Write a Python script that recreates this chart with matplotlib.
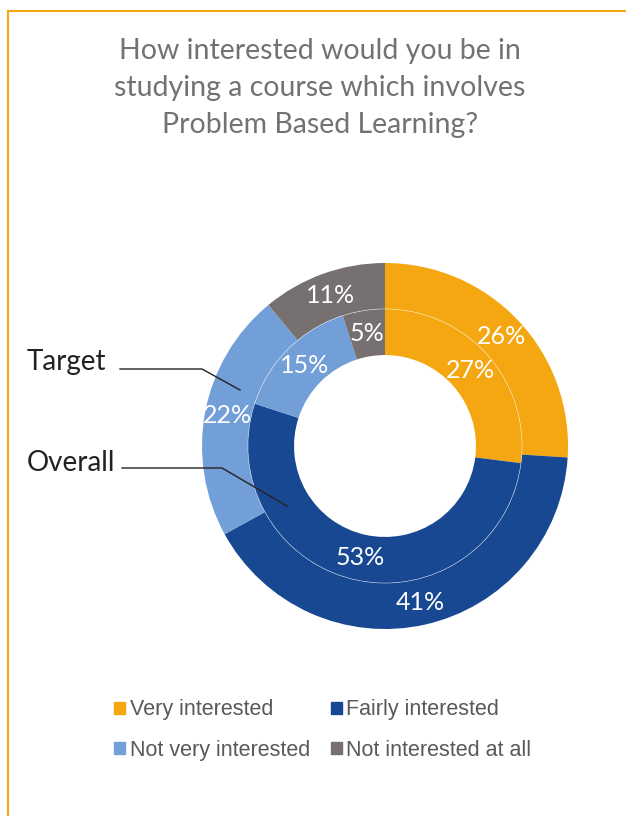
import matplotlib.pyplot as plt
from matplotlib.patches import Patch

# Survey answers, percentages
categories = ['Very interested', 'Fairly interested', 'Not very interested', 'Not interested at all']
target = [26, 41, 22, 11]
overall = [27, 53, 15, 5]
colors = ['#F5A712', '#194893', '#739FD9', '#767170']

W, H = 626, 816
fig = plt.figure(figsize=(W / 100, H / 100), dpi=100)

# orange frame on top and left
fig.add_artist(plt.Line2D([8 / W, 1], [1 - 11 / H, 1 - 11 / H], color='#F5A712', lw=1.5))
fig.add_artist(plt.Line2D([8 / W, 8 / W], [0, 1 - 11 / H], color='#F5A712', lw=1.5))

fig.text(320 / W, 1 - 88 / H,
         'How interested would you be in\nstudying a course which involves\nProblem Based Learning?',
         ha='center', va='center', fontsize=20.5, color='#727270', family='Lato',
         linespacing=1.5)

# donut axes: centre (385, 446), radius 183 px
cx, cy, r = 385, 446, 183
ax = fig.add_axes([(cx - r) / W, 1 - (cy + r) / H, 2 * r / W, 2 * r / H])

def pct(p):
    return f'{p:.0f}%'

_, _, t_out = ax.pie(target, colors=colors, startangle=90, counterclock=False, radius=1.0,
                     wedgeprops=dict(width=0.251, linewidth=0), autopct=pct, pctdistance=0.875)
_, _, t_in = ax.pie(overall, colors=colors, startangle=90, counterclock=False, radius=0.749,
                    wedgeprops=dict(width=0.252, linewidth=0), autopct=pct, pctdistance=0.832)
ax.add_patch(plt.Circle((0, 0), 0.749, fill=False, ec='white', lw=0.4, alpha=0.7))
for t in list(t_out) + list(t_in):
    t.set_color('white')
    t.set_fontsize(18)
    t.set_family('Lato')
ax.set_xlim(-1, 1)
ax.set_ylim(-1, 1)
ax.set_aspect('equal')
ax.axis('off')

# series labels with leader lines (figure pixels)
def px(x, y):
    return x / W, 1 - y / H

fig.text(*px(27, 362), 'Target', fontsize=20, family='Lato', color='#222222', va='center')
fig.add_artist(plt.Line2D(*zip(px(120, 369), px(202, 369), px(240, 390)), color='#222222', lw=1))
fig.text(*px(27, 463), 'Overall', fontsize=20, family='Lato', color='#222222', va='center')
fig.add_artist(plt.Line2D(*zip(px(122, 468), px(222, 468), px(287, 506)), color='#222222', lw=1))

# legend reads row-wise in the reference, so order entries column by column
order = [0, 2, 1, 3]
handles = [Patch(color=colors[i]) for i in order]
labels = [categories[i] for i in order]
fig.legend(handles, labels, loc='center', bbox_to_anchor=(323 / W, 1 - 730 / H), ncol=2,
           frameon=False, prop={'family': 'Liberation Sans', 'size': 15.5},
           handlelength=0.5, handleheight=0.5, handletextpad=0.2, columnspacing=1.0,
           labelspacing=0.9, labelcolor='#595959')

fig.savefig('out.png', dpi=100)
